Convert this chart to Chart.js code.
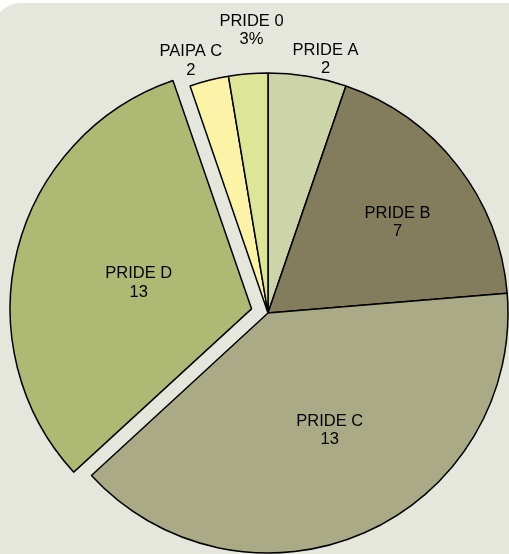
<!DOCTYPE html>
<html>
<head>
<meta charset="utf-8">
<script src="https://cdn.jsdelivr.net/npm/chart.js@4.4.0/dist/chart.umd.min.js"></script>
<style>
  html, body { margin: 0; padding: 0; background: #ffffff; overflow: hidden; width: 509px; height: 554px; }
  #bg { position: absolute; left: -6px; top: 3px; width: 560px; height: 600px; background: #E6E7DC; border-top-left-radius: 26px; }
  #c { position: absolute; left: 0; top: 0; }
</style>
</head>
<body>
<div id="bg"></div>
<canvas id="c" width="509" height="554"></canvas>
<script>
// ---- data ----
const categories = ['PRIDE A', 'PRIDE B', 'PRIDE C', 'PRIDE D', 'PAIPA C', 'PRIDE 0'];
const values = [2, 7, 15, 12, 1, 1];
const valueLabels = ['2', '7', '13', '13', '2', '3%'];

// ---- styles ----
const sliceColors = ['#CDD4A8', '#837D5E', '#AAAB86', '#AEBA73', '#FCF3A6', '#DDE697'];
const explodedIndex = 3;
// label layout: distance as fraction of radius, angular nudge in degrees
const labelLayout = [
  { r: 1.084, da: 3.3 },
  { r: 0.658, da: 3.0 },
  { r: 0.552, da: -4.1 },
  { r: 0.482, da: -1.3 },
  { r: 1.098, da: -2.8 },
  { r: 1.18, da: 1.4 }
];

const sliceLabelPlugin = {
  id: 'sliceLabels',
  afterDatasetsDraw(chart) {
    const ctx = chart.ctx;
    const meta = chart.getDatasetMeta(0);
    ctx.save();
    ctx.font = '16.5px "Liberation Sans", Arial, sans-serif';
    ctx.fillStyle = '#000000';
    ctx.textAlign = 'center';
    ctx.textBaseline = 'middle';
    meta.data.forEach((arc, i) => {
      const p = arc.getProps(['x', 'y', 'startAngle', 'endAngle', 'outerRadius'], true);
      const mid = (p.startAngle + p.endAngle) / 2;
      const off = (arc.options.offset || 0) / 4;
      const cx = p.x + Math.cos(mid) * off;
      const cy = p.y + Math.sin(mid) * off;
      const L = labelLayout[i];
      const a = mid + L.da * Math.PI / 180;
      const lx = cx + Math.cos(a) * p.outerRadius * L.r;
      const ly = cy + Math.sin(a) * p.outerRadius * L.r;
      const lh = 18.5;
      ctx.fillText(categories[i], lx, ly - lh / 2);
      ctx.fillText(valueLabels[i], lx, ly + lh / 2);
    });
    ctx.restore();
  }
};

new Chart(document.getElementById('c'), {
  type: 'pie',
  data: {
    labels: categories,
    datasets: [{
      data: values,
      backgroundColor: sliceColors,
      borderColor: '#000000',
      borderWidth: 1.5,
      hoverBorderWidth: 1.5,
      radius: 240,
      offset: (c) => (c.dataIndex === explodedIndex ? 68 : 0),
      hoverOffset: 0
    }]
  },
  options: {
    responsive: false,
    animation: false,
    events: [],
    layout: { padding: { left: 27, right: 0, top: 72, bottom: 0 } },
    plugins: {
      legend: { display: false },
      tooltip: { enabled: false }
    }
  },
  plugins: [sliceLabelPlugin]
});
</script>
</body>
</html>
